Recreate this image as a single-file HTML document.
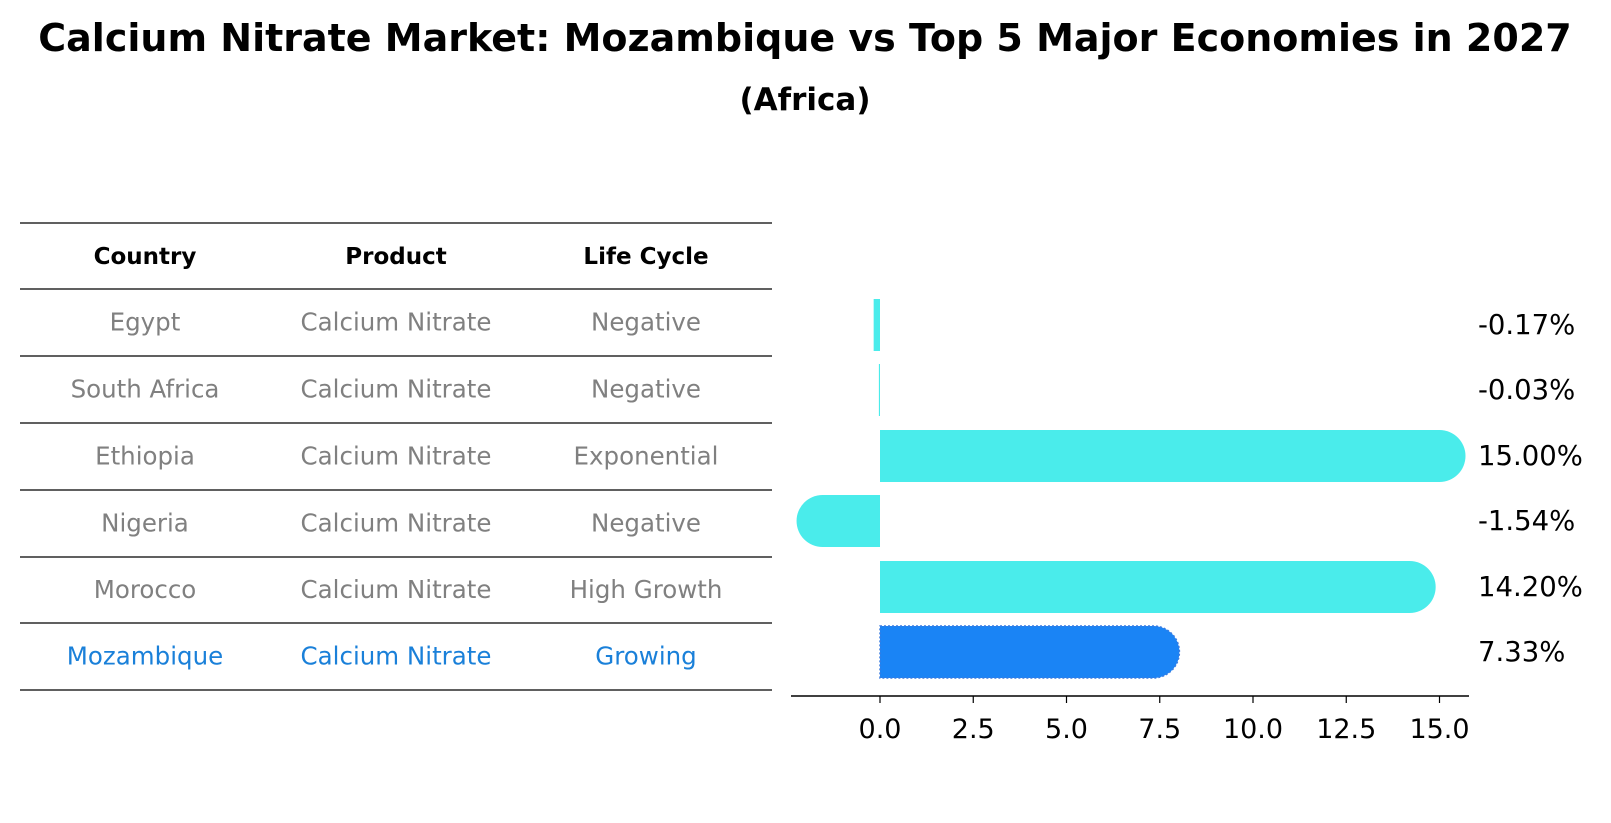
<!DOCTYPE html>
<html><head><meta charset="utf-8"><style>
body{margin:0;background:#fff;width:1611px;height:823px;overflow:hidden;font-family:"DejaVu Sans","Liberation Sans",sans-serif}
svg{display:block}
</style></head><body>
<svg id="c" width="1611" height="823">
<text x="805" y="51" text-anchor="middle" font-size="38" font-weight="bold">Calcium Nitrate Market: Mozambique vs Top 5 Major Economies in 2027</text>
<text x="805" y="110" text-anchor="middle" font-size="31" font-weight="bold">(Africa)</text>
<g id="table"></g>
<g id="bars"></g>
</svg>
<script>
const countries=["Egypt","South Africa","Ethiopia","Nigeria","Morocco","Mozambique"];
const products=["Calcium Nitrate","Calcium Nitrate","Calcium Nitrate","Calcium Nitrate","Calcium Nitrate","Calcium Nitrate"];
const lifecycle=["Negative","Negative","Exponential","Negative","High Growth","Growing"];
const values=[-0.17,-0.03,15.00,-1.54,14.20,7.33];
const valueLabels=["-0.17%","-0.03%","15.00%","-1.54%","14.20%","7.33%"];
const ticks=[0,2.5,5,7.5,10,12.5,15];
const NS="http://www.w3.org/2000/svg";
function mk(p,t,a){const e=document.createElementNS(NS,t);for(const k in a)e.setAttribute(k,a[k]);p.appendChild(e);return e;}
const tb=document.getElementById('table');
const lineY=[223,289,356,423,490,557,623,690];
lineY.forEach(y=>{const l=mk(tb,'line',{x1:20,x2:772,y1:y,y2:y,stroke:'#000','stroke-width':1.2});

});
const colX=[145,396,646];
["Country","Product","Life Cycle"].forEach((h,i)=>{const t=mk(tb,'text',{x:colX[i],y:264,'text-anchor':'middle','font-size':23,'font-weight':'bold'});t.textContent=h;

});
countries.forEach((c,r)=>{const y=(lineY[r+1]+lineY[r+2])/2+8;const col=r==countries.length-1?'#1a80d9':'#808080';
[c,products[r],lifecycle[r]].forEach((v,i)=>{const t=mk(tb,'text',{x:colX[i],y:y,'text-anchor':'middle','font-size':24.5,fill:col});t.textContent=v;

});});
const g=document.getElementById('bars');
const x0=880,k=37.3;const X=v=>x0+v*k;
const rowY=[325,390,456,521,587,652];const bh=52,cap=26;
values.forEach((v,i)=>{const y=rowY[i];const last=i==values.length-1;const col=last?'#1a84f5':'#4aeceb';
let d;const xe=X(v);
if(Math.abs(v)>1){const dir=v>0?1:-1;d=`M${x0},${y-bh/2} L${xe},${y-bh/2} A${cap},${bh/2} 0 0 ${dir>0?1:0} ${xe},${y+bh/2} L${x0},${y+bh/2} Z`;}
else{const a=Math.min(x0,xe),b=Math.max(x0,xe);d=`M${a},${y-bh/2} L${b},${y-bh/2} L${b},${y+bh/2} L${a},${y+bh/2} Z`;}
const attrs={d:d,fill:col};if(last){attrs.stroke='#3a7be0';attrs['stroke-dasharray']='2,2';attrs['stroke-width']=1.5;}
const p=mk(g,'path',attrs);


const t=mk(g,'text',{x:1478,y:y+9,'font-size':27.5,fill:'#000'});t.textContent=valueLabels[i];

});
const ax=mk(g,'line',{x1:791,x2:1469,y1:696,y2:696,stroke:'#000','stroke-width':1.5});


ticks.forEach(tv=>{const tl=mk(g,'line',{x1:X(tv),x2:X(tv),y1:696,y2:703,stroke:'#000','stroke-width':1.2});


const t=mk(g,'text',{x:X(tv),y:738,'text-anchor':'middle','font-size':27});t.textContent=tv.toFixed(1);

});
</script>
</body></html>
